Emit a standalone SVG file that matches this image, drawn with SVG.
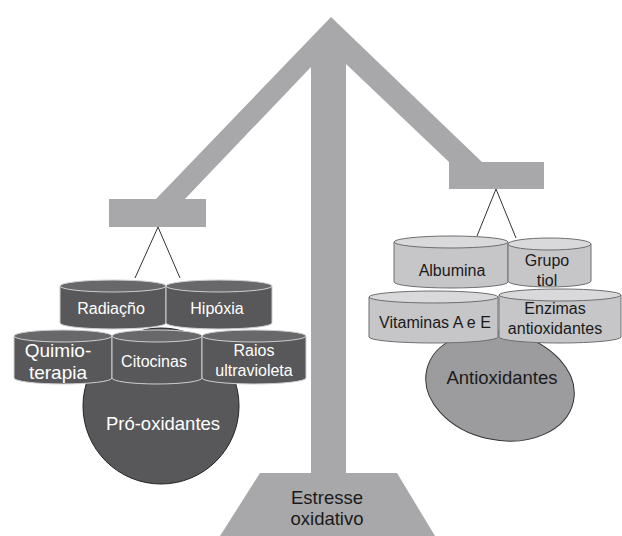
<svg xmlns="http://www.w3.org/2000/svg" width="622" height="536" viewBox="0 0 622 536">
<style>
.scale{fill:#a8a8aa}
.dk{fill:#58585a;stroke:#cfcfd1;stroke-width:1}
.dkt{fill:#68686a;stroke:#cfcfd1;stroke-width:1}
.lt{fill:#c6c6c8;stroke:#6e6e70;stroke-width:1}
.ltt{fill:#d9d9db;stroke:#6e6e70;stroke-width:1}
.str{stroke:#333;stroke-width:1;fill:none}
text{font-family:"Liberation Sans",Arial,sans-serif;text-anchor:middle}
.w{fill:#fff;font-size:16px}
.b{fill:#1a1a1a;font-size:16px}
.big{font-size:18.5px}
</style>
<rect width="622" height="536" fill="#fff"/>
<g id="scale">
<polygon class="scale" points="156,199 331,17 482,162 449,162 346,64 346,473 311,473 311,67 185,199"/>
<rect class="scale" x="109" y="199" width="97" height="28"/>
<rect class="scale" x="449" y="162" width="95" height="27"/>
<polygon class="scale" points="260,473 397,473 435,536 220,536"/>
<text class="b big" x="327" y="504">Estresse</text>
<text class="b big" x="327" y="525">oxidativo</text>
</g>
<g id="connectors">
<polyline class="str" points="135,278 158,227 180,278"/>
<polyline class="str" points="477,236 496,189 516,238"/>
</g>
<g id="pro-oxidantes">
<circle cx="161" cy="406" r="78" fill="#58585a" stroke="#222" stroke-width="1"/>
<text class="w big" x="163" y="430">Pró-oxidantes</text>
</g>
<g id="quimioterapia">
<path class="dk" d="M14,336 L14,378 A49,6 0 0 0 112,378 L112,336 Z"/>
<ellipse class="dkt" cx="63" cy="336" rx="49" ry="6"/>
<text class="w" x="58" y="357" style="font-size:19px">Quimio-</text>
<text class="w" x="58" y="379" style="font-size:19px">terapia</text>
</g>
<g id="citocinas">
<path class="dk" d="M112,336 L112,378 A45,6 0 0 0 202,378 L202,336 Z"/>
<ellipse class="dkt" cx="157" cy="336" rx="45" ry="6"/>
<text class="w" x="154" y="367">Citocinas</text>
</g>
<g id="raios">
<path class="dk" d="M202,336 L202,378 A52,6 0 0 0 306,378 L306,336 Z"/>
<ellipse class="dkt" cx="254" cy="336" rx="52" ry="6"/>
<text class="w" x="254" y="356">Raios</text>
<text class="w" x="254" y="376">ultravioleta</text>
</g>
<g id="radiacao">
<path class="dk" d="M60,286 L60,323 A53,6 0 0 0 166,323 L166,286 Z"/>
<ellipse class="dkt" cx="113" cy="286" rx="53" ry="6"/>
<text class="w" x="111" y="314">Radiaçño</text>
</g>
<g id="hipoxia">
<path class="dk" d="M166,286 L166,323 A53,6 0 0 0 272,323 L272,286 Z"/>
<ellipse class="dkt" cx="219" cy="286" rx="53" ry="6"/>
<text class="w" x="217" y="314">Hipóxia</text>
</g>
<g id="antioxidantes">
<ellipse cx="500" cy="386" rx="75" ry="54" transform="rotate(12 500 386)" fill="#9c9c9e" stroke="#333" stroke-width="1"/>
<text class="b big" x="502" y="384">Antioxidantes</text>
</g>
<g id="vitaminas">
<path class="lt" d="M369,297 L369,337 A64.5,6 0 0 0 498,337 L498,297 Z"/>
<ellipse class="ltt" cx="433.5" cy="297" rx="64.5" ry="6"/>
<text class="b" x="435" y="328">Vitaminas A e E</text>
</g>
<g id="enzimas">
<path class="lt" d="M499,295 L499,337 A61,6 0 0 0 621,337 L621,295 Z"/>
<ellipse class="ltt" cx="560" cy="295" rx="61" ry="6"/>
<text class="b" x="555" y="314">Enzimas</text>
<text class="b" x="555" y="334">antioxidantes</text>
</g>
<g id="albumina">
<path class="lt" d="M394,242 L394,282 A57,6 0 0 0 508,282 L508,242 Z"/>
<ellipse class="ltt" cx="451" cy="242" rx="57" ry="6"/>
<text class="b" x="452" y="276">Albumina</text>
</g>
<g id="grupo-tiol">
<path class="lt" d="M508,244 L508,281 A41.5,6 0 0 0 591,281 L591,244 Z"/>
<ellipse class="ltt" cx="549.5" cy="244" rx="41.5" ry="6"/>
<text class="b" x="547" y="266">Grupo</text>
<text class="b" x="547" y="286">tiol</text>
</g>
</svg>
